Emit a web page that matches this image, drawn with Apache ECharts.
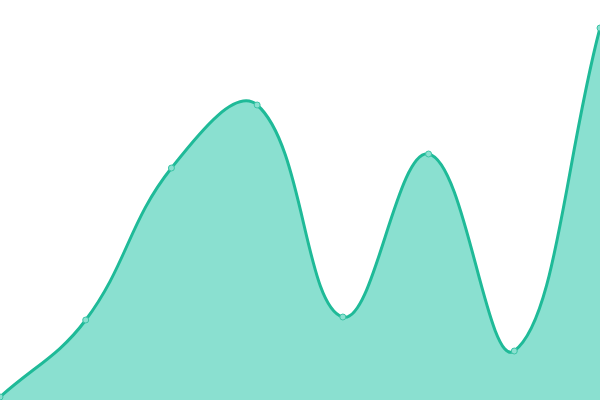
<!DOCTYPE html>
<html>
<head>
<meta charset="utf-8">
<script src="https://cdn.jsdelivr.net/npm/echarts@6/dist/echarts.min.js"></script>
<style>html,body{margin:0;padding:0;background:#fff}#c{width:600px;height:400px}</style>
</head>
<body>
<div id="c"></div>
<script>
var categories = ['A', 'B', 'C', 'D', 'E', 'F', 'G', 'H'];
var values = [0.75, 20, 58, 73.75, 20.75, 61.5, 12.25, 93];

var TENSION = 0.4;

function splinePath(pts, rect) {
  var n = pts.length, cps = [];
  for (var i = 0; i < n; i++) {
    var p0 = pts[Math.max(i - 1, 0)], p1 = pts[i], p2 = pts[Math.min(i + 1, n - 1)];
    var d01 = Math.hypot(p1[0] - p0[0], p1[1] - p0[1]);
    var d12 = Math.hypot(p2[0] - p1[0], p2[1] - p1[1]);
    var s01 = d01 / (d01 + d12), s12 = d12 / (d01 + d12);
    if (isNaN(s01)) s01 = 0;
    if (isNaN(s12)) s12 = 0;
    var fa = TENSION * s01, fb = TENSION * s12;
    var c1 = [p1[0] - fa * (p2[0] - p0[0]), p1[1] - fa * (p2[1] - p0[1])];
    var c2 = [p1[0] + fb * (p2[0] - p0[0]), p1[1] + fb * (p2[1] - p0[1])];
    [c1, c2].forEach(function (c) {
      c[0] = Math.min(Math.max(c[0], rect.x), rect.x + rect.width);
      c[1] = Math.min(Math.max(c[1], rect.y), rect.y + rect.height);
    });
    cps.push([c1, c2]);
  }
  var d = 'M' + pts[0][0] + ' ' + pts[0][1];
  for (var j = 1; j < n; j++) {
    d += ' C' + cps[j - 1][1][0] + ' ' + cps[j - 1][1][1] + ' ' +
      cps[j][0][0] + ' ' + cps[j][0][1] + ' ' + pts[j][0] + ' ' + pts[j][1];
  }
  return d;
}

var chart = echarts.init(document.getElementById('c'));
chart.setOption({
  animation: false,
  grid: { left: 0, right: 0, top: 0, bottom: 0 },
  xAxis: { type: 'category', data: categories, boundaryGap: false, show: false },
  yAxis: { type: 'value', min: 0, max: 100, show: false },
  series: [{
    type: 'custom',
    data: [0],
    clip: true,
    z: 2,
    renderItem: function (params, api) {
      var pts = values.map(function (v, i) { return api.coord([i, v]); });
      var base = api.coord([0, 0])[1];
      var line = splinePath(pts, params.coordSys);
      var area = line + ' L' + pts[pts.length - 1][0] + ' ' + base + ' L' + pts[0][0] + ' ' + base + ' Z';
      return {
        type: 'group',
        children: [
          { type: 'path', shape: { pathData: area }, style: { fill: '#8ae0d0', stroke: null } },
          { type: 'path', shape: { pathData: line }, style: { fill: null, stroke: '#1fba98', lineWidth: 3 } }
        ]
      };
    }
  }, {
    type: 'line',
    data: values,
    z: 3,
    symbol: 'circle',
    symbolSize: 6,
    lineStyle: { width: 0, opacity: 0 },
    itemStyle: { color: '#8ae0d0', borderColor: '#3cc4a6', borderWidth: 1 }
  }]
});
</script>
</body>
</html>
